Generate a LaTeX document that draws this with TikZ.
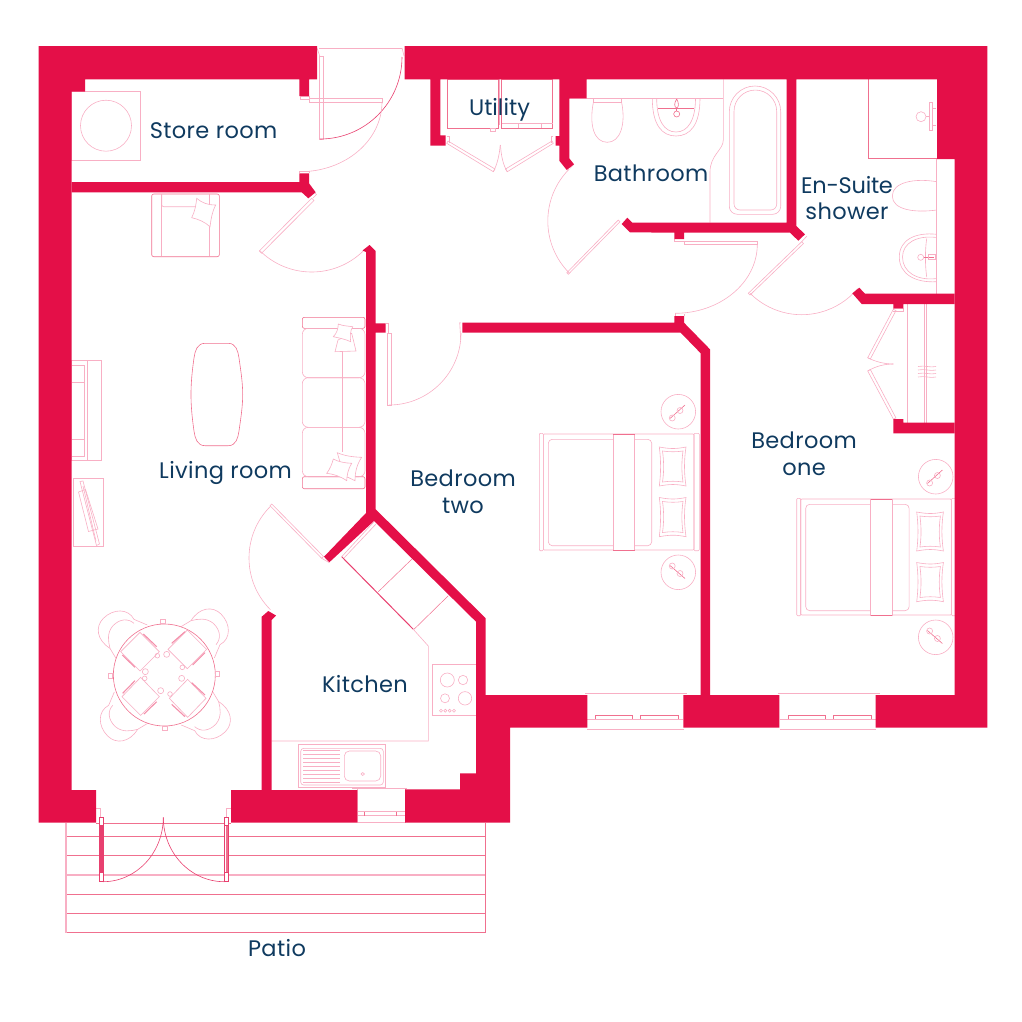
\documentclass[tikz,border=0pt]{standalone}
\usepackage{fontspec}
\setmainfont{Poppins}
\newfontfamily\roomfont[LetterSpace=1.6]{Poppins}
\newfontfamily\tightfont[LetterSpace=-1.2]{Poppins}
\newfontfamily\plainfont{Poppins}
\definecolor{wallred}{HTML}{E40F48}
\definecolor{fineline}{HTML}{F8AFC4}
\definecolor{midline}{HTML}{F0708F}
\definecolor{softline}{HTML}{F48FAA}
\definecolor{darkline}{HTML}{E8406F}
\definecolor{ink}{HTML}{0F3A5F}
\tikzset{
  wall/.style={fill=wallred,draw=none},
  fine/.style={draw=fineline,line width=.6pt},
  mid/.style={draw=midline,line width=.6pt},
  dark/.style={draw=darkline,line width=.6pt},
  room/.style={text=ink,font=\fontsize{22.5}{26.5}\roomfont,align=center,inner sep=0pt},
  oneline/.style={room,anchor=base}
}
\newcommand{\darc}[7][fine]{\draw[#1] ({#2+#4*cos(#6)},{#3+#5*sin(#6)}) arc[start angle=#6,end angle=#7,x radius=#4,y radius=#5];}
\newcommand{\thebed}{%
  \draw[fine,rounded corners=1pt] (539.3,433.3) rectangle (543.3,550.7);
  \draw[fine,rounded corners=1pt] (543.3,434) rectangle (694,550);
  \draw[fine,rounded corners=1pt] (694,433.3) rectangle (699.3,550.7);
  \draw[fine,rounded corners=4pt] (548.3,439.3) rectangle (651.7,545.7);
  \draw[fine,fill=white] (613.3,434) rectangle (634.7,550);
  \draw[mid] (613.3,434) -- (634.7,434) (613.3,550) -- (634.7,550);
  \draw[fine] (659.3,447) .. controls (670,449) and (676,449) .. (686,447) .. controls (684,460) and (684,473) .. (686,486) .. controls (676,484) and (670,484) .. (659.3,486) .. controls (661,473) and (661,460) .. (659.3,447) -- cycle;
  \draw[fine] (662.5,451) .. controls (670,452) and (676,452) .. (683,451) .. controls (681.5,462) and (681.5,472) .. (683,482) .. controls (676,481) and (670,481) .. (662.5,482) .. controls (664,472) and (664,462) .. (662.5,451) -- cycle;
  \draw[fine] (659.3,497.5) .. controls (670,499.5) and (676,499.5) .. (686,497.5) .. controls (684,510) and (684,523) .. (686,536.7) .. controls (676,534.7) and (670,534.7) .. (659.3,536.7) .. controls (661,523) and (661,510) .. (659.3,497.5) -- cycle;
  \draw[fine] (662.5,501.5) .. controls (670,502.5) and (676,502.5) .. (683,501.5) .. controls (681.5,512) and (681.5,522) .. (683,532.5) .. controls (676,531.5) and (670,531.5) .. (662.5,532.5) .. controls (664,522) and (664,512) .. (662.5,501.5) -- cycle;
  \draw[fine] (678.3,411.7) circle[radius=17.3];
  \draw[fine] (678.3,572.3) circle[radius=17.3];
  \draw[mid] (670,418.5) -- (685,405) (670,565.5) -- (685,578.5);
  \draw[fine] (672.2,418) circle[radius=3] (680,410.5) circle[radius=3] (672.2,566) circle[radius=3] (680,573.5) circle[radius=3];
}
\newcommand{\thechair}{%
  \draw[fine] (262,105) -- (222,88) .. controls (205,55) and (160,55) .. (130,85) .. controls (105,110) and (110,150) .. (150,175) -- (168,205);
  \draw[fine] (222,100) .. controls (205,85) and (180,85) .. (158,108) .. controls (140,130) and (145,155) .. (150,175);
}
\newcommand{\thewindow}{%
  \draw[fine] (585,693.3) -- (687.3,693.3) (587,729.3) -- (683.5,729.3);
  \draw[fine] (587,719.3) -- (683.3,719.3);
  \draw[mid] (595.7,715) -- (632.3,715) (640.7,715) -- (678.3,715);
  \draw[mid] (595.7,715) -- (595.7,719.3) (632.3,715) -- (632.3,719.3) (640.7,715) -- (640.7,719.3) (678.3,715) -- (678.3,719.3);
}
\begin{document}
\begin{tikzpicture}[x=1pt,y=-1pt]
\useasboundingbox (0,0) rectangle (1022,1021);

% ---------- patio ----------
\draw[mid] (96,823.3) -- (231,823.3);
\draw[mid] (66,836.3) -- (485.7,836.3) (66,855.3) -- (485.7,855.3);
\draw[draw=fineline,line width=1.5pt] (66,875) -- (485.7,875);
\draw[mid] (66,894.3) -- (485.7,894.3) (66,913.3) -- (485.7,913.3) (66,932.6) -- (485.7,932.6);
\draw[draw=fineline,line width=1.4pt] (66,823) -- (66,933);
\draw[mid] (485.7,823) -- (485.7,933);

% ---------- patio doors ----------
\draw[dark,fill=white] (99.3,817.3) rectangle (103,881.7);
\fill[darkline] (99.3,825) rectangle (103,872.7);
\draw[dark] (99.3,817.3) rectangle (103,825) (99.3,872.7) rectangle (103,881.7);
\draw[dark,fill=white] (224.3,817.3) rectangle (228,881.7);
\fill[midline] (226,825) rectangle (228,872.7);
\draw[dark] (224.3,817.3) rectangle (228,825) (224.3,872.7) rectangle (228,881.7);
\darc[dark]{103}{817.3}{60.3}{64.4}{90}{0}
\darc[dark]{224.3}{817.3}{61}{64.4}{90}{180}
\draw[fine] (96,808.3) -- (100.7,808.3) -- (100.7,817.3) (231,808.3) -- (226.7,808.3) -- (226.7,817.3);

% ---------- store room ----------
\draw[fine] (71.7,91.7) rectangle (140.7,160.3);
\draw[fine] (106,125.7) circle[radius=25.5];

% ---------- entrance and store doors ----------
\draw[fine] (319,48) -- (402,48);
\draw[fine] (319.3,56.7) rectangle (323.3,139.3);
\draw[fine] (317,48) -- (320,56.7) (402,48) -- (404,56);
\darc[dark]{320}{57}{82}{82}{0}{90}
\draw[fine] (300,96) rectangle (309,99.5);
\draw[fine] (309.3,98.3) rectangle (382.7,102.3);
\darc[fine]{300}{102}{82}{69.7}{0}{90}
\draw[fine] (299.3,173.3) -- (299.3,171) -- (309,171) -- (309,173.3);

% ---------- living room door ----------
\draw[fine] (311.7,198.3) -- (259.3,251) -- (261.5,253.2) -- (314,200.5) -- cycle;
\darc[fine]{311.7}{198.3}{73.7}{73.7}{135}{45}
\draw[fine] (314,192) -- (316.5,194.5) -- (313,198);

% ---------- armchair ----------
\draw[mid,rounded corners=2pt] (151.7,194) rectangle (219.3,256.7);
\draw[fine,rounded corners=2pt] (161.7,194) -- (161.7,256) (209.3,194) -- (209.3,256);
\draw[fine,rounded corners=2pt] (161.7,194) -- (161.7,206.7) -- (209.3,206.7) (209.3,206.7) -- (209.3,194);
\draw[fine,fill=white] (196.7,198.3) .. controls (202,203) and (208,205) .. (215.7,205) .. controls (212,212) and (211,219) .. (210,226.7) .. controls (205,222) and (198,219) .. (191.7,217.7) .. controls (195,211) and (196,205) .. (196.7,198.3) -- cycle;

% ---------- sofa ----------
\draw[mid,rounded corners=2pt] (302.3,317.3) rectangle (365,328.3);
\draw[mid,rounded corners=2pt] (302.3,476.7) rectangle (365,488.7);
\draw[fine,rounded corners=6pt] (302.3,328.3) rectangle (365,377.7);
\draw[fine,rounded corners=6pt] (302.3,377.7) rectangle (365,427.3);
\draw[fine,rounded corners=6pt] (302.3,427.3) rectangle (365,476.7);
\draw[fine] (342.7,350) -- (342.7,452);
\draw[fine,fill=white] (335,351.7) -- (338,340) -- (351.7,333.3) -- (356,351) -- cycle;
\draw[fine,fill=white] (338.3,324) .. controls (343,326) and (348,326) .. (352.7,326.7) .. controls (350,331) and (350,337) .. (350.7,341.7) .. controls (345,339) and (339,338) .. (333.3,336.7) .. controls (337,333) and (338,329) .. (338.3,324) -- cycle;
\draw[fine,fill=white] (337.3,452.7) .. controls (345,456) and (353,457) .. (361.7,457.3) .. controls (357,464) and (355,472) .. (355,480.7) -- (346.7,476.7) -- (340,462) -- cycle;
\draw[fine,fill=white] (333.3,459) .. controls (339,462) and (345,463) .. (351.7,463.3) .. controls (348,469) and (347,475) .. (346.7,480.7) .. controls (340,476) and (333,474) .. (326.7,473.3) .. controls (330,469) and (332,464) .. (333.3,459) -- cycle;

% ---------- dining table (barrel) ----------
\draw[mid] (205,343.3) -- (228.3,343.3) .. controls (236,343.3) and (238,351) .. (239,358) .. controls (241,372) and (242.7,383) .. (242.7,394.5) .. controls (242.7,406) and (241,417) .. (239,431) .. controls (238,438) and (236,445.7) .. (228.3,445.7) -- (205,445.7) .. controls (197,445.7) and (195,438) .. (194,431) .. controls (192,417) and (191,406) .. (191,394.5) .. controls (191,383) and (192,372) .. (194,358) .. controls (195,351) and (197,343.3) .. (205,343.3) -- cycle;

% ---------- media unit ----------
\draw[fine] (71.7,360.7) rectangle (101.7,460.7);
\draw[fine] (87.3,360.7) -- (87.3,460.7);
\draw[fine] (71.7,365) rectangle (84,456);
\draw[fine] (71.7,382.3) -- (84,382.3) (71.7,439.3) -- (84,439.3);

% ---------- desk ----------
\draw[fine] (73.3,478.3) rectangle (103.7,546.7);
\draw[fine] (80,481.5) -- (83,481) -- (99.5,544) -- (96.5,545.5) -- cycle;
\draw[fine] (78.5,492) -- (85.5,489.5) -- (98,529) -- (88.5,531.5) -- cycle;
\draw[fine] (83,486) -- (96,541);

% ---------- dining set, in zoomed coordinates ----------
\begin{scope}[shift={(60,590)},x=.33333pt,y=-.33333pt]
  \thechair
  \begin{scope}[rotate around={90:(313,255)}]\thechair\end{scope}
  \begin{scope}[rotate around={180:(313,255)}]\thechair\end{scope}
  \begin{scope}[rotate around={270:(313,255)}]\thechair\end{scope}
  \draw[mid,fill=white] (313,255) circle[radius=153];
  \draw[fine,fill=white] (302,88) rectangle (316,101);
  \draw[fine,fill=white] (466,245) rectangle (479,259);
  \draw[fine,fill=white] (308,409) rectangle (322,422);
  \draw[fine,fill=white] (145,251) rectangle (158,265);
  \draw[fine] (240,127) -- (298,185) -- (240,243) -- (182,185) -- cycle;
  \draw[fine] (382,120) -- (440,178) -- (382,236) -- (324,178) -- cycle;
  \draw[fine] (242,262) -- (298,320) -- (242,376) -- (186,320) -- cycle;
  \draw[fine] (383,268) -- (438,325) -- (383,382) -- (328,325) -- cycle;
  \draw[softline,line width=1.1pt] (250,132) -- (290,170) (187,195) -- (225,232);
  \draw[softline,line width=1.1pt] (335,160) -- (375,125) (398,225) -- (435,188);
  \draw[softline,line width=1.1pt] (188,310) -- (225,272) (252,372) -- (290,335);
  \draw[softline,line width=1.1pt] (335,343) -- (375,380) (395,278) -- (435,315);
  \draw[fine] (292,197) circle[radius=7] (256,245) circle[radius=9];
  \draw[fine] (320,193) circle[radius=9] (367,232) circle[radius=7];
  \draw[fine] (254,265) circle[radius=7] (302,302) circle[radius=9];
  \draw[fine] (365,265) circle[radius=9] (330,312) circle[radius=7];
\end{scope}

% ---------- bedroom two ----------
\draw[fine] (387,333) rectangle (391,405);
\darc[fine]{389}{333}{72}{72}{90}{0}
\draw[fine] (460.7,322.7) -- (459.7,322.7) -- (460.7,340);
\draw[fine] (385.7,323.3) -- (388,323.3) -- (388,333);
\thebed

% ---------- bedroom one ----------
\begin{scope}[shift={(257.4,65)}]\thebed\end{scope}
\draw[fine] (907.7,304) -- (907.7,422.7);
\draw[fine] (924.7,304) -- (924.7,422.7) (926.7,304) -- (926.7,422.7);
\draw[fine] (918,366.5) .. controls (925,365) and (930,368) .. (936,366.5);
\draw[fine] (918,370) .. controls (925,368.5) and (930,371.5) .. (936,370);
\draw[fine] (918,373.5) .. controls (925,372) and (930,375) .. (936,373.5);
\draw[fine] (918,377) .. controls (925,375.5) and (930,378.5) .. (936,377);
% wardrobe doors
\draw[fine] (893.3,309.3) -- (867.7,357.7) -- (870.3,359) -- (896,310.5) -- cycle;
\draw[fine] (893.3,419) -- (867.7,371) -- (870.3,369.5) -- (896,418) -- cycle;
\draw[fine] (867.7,357.7) .. controls (876,362) and (885,364) .. (893.3,364);
\draw[fine] (867.7,371) .. controls (876,366) and (885,364) .. (893.3,364);
\draw[fine] (893.3,308.3) -- (903.3,308.3) -- (903.3,311) -- (893.3,311);

% ---------- utility ----------
\draw[mid] (447.3,79.3) rectangle (498.3,128.3);
\draw[mid] (501.7,79.3) rectangle (552.7,128.3);
\draw[fine] (501.7,123.3) -- (552.7,123.3) (499.5,79.3) -- (499.5,125);
\draw[fine] (518,123.3) -- (518,128.3) (541,123.3) -- (541,128.3);
\draw[fine] (490,128.3) rectangle (495,131);
\draw[fine] (446.7,136.7) -- (449,136.7) -- (449,143);
\draw[fine] (446.7,143.3) -- (493.3,171.7) -- (495,169) -- (448,141) -- cycle;
\draw[fine] (493.3,171.7) .. controls (497,165) and (499.5,155) .. (500.2,145);
\draw[fine] (553.3,136.7) -- (551,136.7) -- (551,143);
\draw[fine] (553.3,143.3) -- (507.3,171.7) -- (505.5,169) -- (552,141) -- cycle;
\draw[fine] (507.3,171.7) .. controls (503,165) and (501,155) .. (500.5,145);

% ---------- bathroom ----------
\draw[fine] (569.3,98.3) -- (723.3,98.3);
\draw[fine] (723.3,79.3) -- (723.3,140) .. controls (723.3,150) and (710,155) .. (710,172) -- (710,222.7);
\draw[fine] (593.3,98.3) -- (593.3,102.7) -- (621.7,102.7) -- (621.7,98.3);
\draw[fine] (593.3,102.7) .. controls (589,125) and (594,142.3) .. (607.3,142.3) .. controls (620,142.3) and (626,125) .. (621.7,102.7);
\draw[fine] (652.3,98.3) .. controls (652.3,125) and (662,136) .. (676,136) .. controls (690,136) and (700,125) .. (700,98.3);
\draw[fine] (656.7,98.3) .. controls (656.7,120) and (664,132) .. (676,132) .. controls (688,132) and (695.5,120) .. (695.5,98.3);
\draw[mid] (658,108.3) -- (694,108.3);
\draw[mid] (676.7,99) .. controls (674,103) and (674,107) .. (676.7,108) .. controls (679,107) and (679,103) .. (676.7,99);
\draw[mid] (676.7,114) circle[radius=3];
\draw[mid] (676.7,108) -- (676.7,111);
\draw[fine] (729.3,111.7) arc[start angle=180,end angle=360,radius=25.7] -- (780.7,206.3) arc[start angle=0,end angle=90,radius=8] -- (737.3,214.3) arc[start angle=90,end angle=180,radius=8] -- cycle;
\draw[fine] (734,111.4) arc[start angle=180,end angle=360,radius=21.35] -- (776.7,204) arc[start angle=0,end angle=90,radius=6] -- (740,210) arc[start angle=90,end angle=180,radius=6] -- cycle;

% ---------- bathroom door ----------
\draw[fine] (620,221.7) -- (568.3,274.3) -- (566.8,272.8) -- (618.3,220) -- cycle;
\darc[fine]{621.5}{221}{73.7}{73.7}{135}{225}
\draw[fine] (570,168.3) -- (574,164.3);

% ---------- door to bedroom one ----------
\draw[fine] (684,241) rectangle (757.3,244.3);
\draw[fine] (674.3,239) -- (674.3,241) -- (684,241);
\darc[fine]{675}{244.3}{82.3}{69}{0}{90}
\draw[fine] (675,313.3) -- (675,316) (684,314) -- (684,316);

% ---------- en-suite ----------
\draw[mid] (868.3,79.3) -- (868.3,158) -- (937,158);
\draw[fine] (936.7,159) -- (936.7,293.7);
\draw[fine] (921,116.7) circle[radius=5];
\draw[fine] (926,116.7) -- (930,116.7);
\draw[fine] (929.3,102.7) rectangle (932,130.7);
\draw[fine] (932,108) -- (936,108) (932,125) -- (936,125);
\draw[fine] (936.7,181.7) .. controls (915,178) and (892.3,182) .. (892.3,196) .. controls (892.3,210) and (915,213) .. (936.7,210);
\draw[fine] (936.7,234.3) .. controls (915,232) and (899.3,240) .. (899.3,257) .. controls (899.3,274) and (915,283) .. (936.7,281.7);
\draw[fine] (936.7,237.5) .. controls (917,235) and (902.5,243) .. (902.5,257) .. controls (902.5,272) and (917,281) .. (936.7,278.5);
\draw[fine] (926.7,238.5) .. controls (925,250) and (925,265) .. (926.7,277);
\draw[fine] (920.7,257.3) circle[radius=3];
\draw[mid] (924,257.3) -- (934,257.3);
\draw[fine] (928,254.5) rectangle (935,259.5);

% ---------- en-suite door ----------
\draw[fine] (801.7,241.7) -- (748.3,293.3) -- (750,295) -- (803.5,243.5) -- cycle;
\darc[fine]{801.7}{241.7}{73}{73}{135}{40}
\draw[fine] (801.7,241.7) -- (807,236);

% ---------- kitchen door ----------
\draw[fine] (270,505.7) -- (321.7,558.3) -- (323.5,556.5) -- (271.8,504) -- cycle;
\darc[fine]{322}{558}{73}{73}{225}{135}
\draw[fine] (321.7,558.3) -- (329,562.5);

% ---------- kitchen ----------
\draw[darkline,line width=1pt] (341.7,556.7) -- (413.3,629.3);
\draw[fine] (341.7,556.7) -- (374,521.7) (344,558) -- (376,524);
\draw[midline,line width=.5pt] (378.3,591.7) -- (411.7,559.3);
\draw[midline,line width=.5pt] (414,629.3) -- (448.3,595.7);
\draw[fine] (413.3,629.3) -- (428.3,646) -- (428.3,741) -- (271.7,741);
\draw[fine] (432.7,664) rectangle (476,715);
\draw[fine] (447.3,680) circle[radius=7] (463,680) circle[radius=4.7] (445,698.3) circle[radius=4.5] (465,698.3) circle[radius=6.7];
\foreach \hx in {441,445.3,449.7,454}{\draw[fine] (\hx,710.7) circle[radius=1.5];}
\draw[fine] (298.3,744.3) rectangle (385.7,787.3);
\draw[fine,rounded corners=3pt] (300.7,748.3) rectangle (383.3,785);
\draw[fine,rounded corners=5pt] (344.3,751) rectangle (380.7,781);
\foreach \ry in {750.5,754.5,758.5,762.5,766.5,770.5,774.5,778.5,782.5}{\draw[fineline,line width=1pt] (303.3,\ry) -- (340,\ry);}
\draw[fine] (362.7,772.5) -- (364.5,774) -- (362.7,775.5) -- (361,774) -- cycle;
% kitchen window
\draw[fine] (352.3,788.3) -- (406.7,788.3);
\draw[fine] (357.3,788.3) -- (357.3,822.7) -- (405,822.7) -- (405,788.3);
\draw[fine] (357.3,811.7) -- (405,811.7) (357.3,815.7) -- (405,815.7);
\draw[mid] (364.3,811.7) -- (364.3,815.7) (396.7,811.7) -- (396.7,815.7);

% ---------- south windows ----------
\thewindow
\begin{scope}[shift={(192.5,0)}]\thewindow\end{scope}

% ---------- walls ----------
\fill[wall] (38.5,46) -- (317,46) -- (317,79.3) -- (309,79.3) -- (309,96) -- (299.3,96) -- (299.3,79.3) -- (85,79.3) -- (85,91.5) -- (71.7,91.5) -- (71.7,790) -- (96,790) -- (96,822.7) -- (38.5,822.7) -- cycle;
\fill[wall] (71.7,182) -- (299.3,182) -- (299.3,173.3) -- (309,173.3) -- (309,183.3) -- (315.7,192.3) -- (308.3,198.3) -- (301.7,192.3) -- (71.7,192.3) -- cycle;
\fill[wall] (404.7,46) -- (987.3,46) -- (987.3,727.7) -- (875.7,727.7) -- (875.7,695) -- (954.7,695) -- (954.7,159) -- (937,159) -- (937,79.3) -- (796.3,79.3) -- (796.3,226) -- (805,234.3) -- (798.3,240.7) -- (790,232.7) -- (684,232.7) -- (684,239) -- (674.3,239) -- (674.3,232.7) -- (630,232.3) -- (621.7,224) -- (627.3,217.7) -- (632.3,222.7) -- (786.7,222.7) -- (786.7,79.3) -- (586.7,79.3) -- (586.7,98.3) -- (569.3,98.3) -- (569.3,158.3) -- (574,164.3) -- (566.7,170) -- (559.3,160.7) -- (559.3,145.7) -- (555.7,145.7) -- (555.7,136) -- (559.3,136) -- (559.3,79.3) -- (440.3,79.3) -- (440.3,135.3) -- (445.7,135.3) -- (445.7,145.7) -- (430.3,145.7) -- (430.3,79.3) -- (404.7,79.3) -- cycle;
\fill[wall] (954.7,293.7) -- (865,293.7) -- (859.3,287.7) -- (852.3,293.3) -- (861.7,304) -- (893.3,304) -- (893.3,308.3) -- (903.3,308.3) -- (903.3,304) -- (954.7,304) -- cycle;
\fill[wall] (954.7,422.7) -- (903.3,422.7) -- (903.3,419) -- (893.3,419) -- (893.3,433.3) -- (954.7,433.3) -- cycle;
\fill[wall] (462.3,322.7) -- (674.3,322.7) -- (674.3,316) -- (684,316) -- (684,322.7) -- (710,349.3) -- (710,695) -- (779.3,695) -- (779.3,727.7) -- (683.3,727.7) -- (683.3,695) -- (700.7,695) -- (700.7,353.3) -- (680.7,332.7) -- (462.3,332.7) -- cycle;
\fill[wall] (366,513) -- (366,252) -- (362.5,250.5) -- (369.5,245) -- (375.7,251) -- (375.7,323.3) -- (385.7,323.3) -- (385.7,332.7) -- (375.7,332.7) -- (375.7,509.3) -- (485.7,618.3) -- (485.7,695) -- (587.3,695) -- (587.3,727.7) -- (510,727.7) -- (510,822.7) -- (405,822.7) -- (405,789.3) -- (460,789.3) -- (460,773.3) -- (476,773.3) -- (476,621.7) -- (374,521) -- (329.3,562.3) -- (324,556.7) -- cycle;
\fill[wall] (261.7,616.7) -- (268.3,611) -- (276,615.5) -- (271.7,620) -- (271.7,790) -- (357.3,790) -- (357.3,822.7) -- (231,822.7) -- (231,790) -- (261.7,790) -- cycle;

% ---------- labels ----------
\node[oneline] (store) at (213.5,138.5) {Store room};
\node[oneline] (utility) at (499.5,115) {\plainfont Utility};
\node[oneline] (bath) at (651,181.7) {Bathroom};
\node[room] (ensuite) at (847,198) {{\tightfont En-Suite}\\shower};
\node[oneline] (living) at (225.5,478.3) {Living room};
\node[room] (bedtwo) at (463,492) {Bedroom\\two};
\node[room] (bedone) at (804,454) {Bedroom\\one};
\node[oneline] (kitchen) at (365,692.7) {Kitchen};
\node[oneline] (patio) at (277,956) {Patio};
\end{tikzpicture}
\end{document}
